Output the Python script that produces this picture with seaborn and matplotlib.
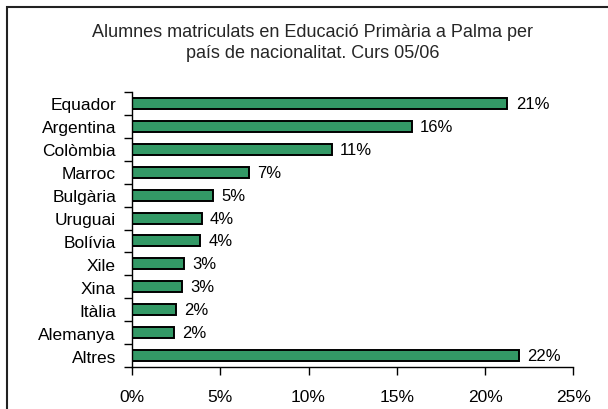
import numpy as np
import pandas as pd
import matplotlib
matplotlib.use("Agg")
import matplotlib.pyplot as plt
import seaborn as sns
from matplotlib.patches import Rectangle

countries = ["Equador", "Argentina", "Colòmbia", "Marroc", "Bulgària", "Uruguai",
             "Bolívia", "Xile", "Xina", "Itàlia", "Alemanya", "Altres"]
shares = [21.27, 15.84, 11.31, 6.64, 4.60, 3.95, 3.85, 2.93, 2.81, 2.49, 2.36, 21.93]
x_ticks = [0, 5, 10, 15, 20, 25]
title_lines = ["Alumnes matriculats en Educació Primària a Palma per",
               "país de nacionalitat. Curs 05/06"]

sns.set_theme(style="white")
plt.rcParams['font.family'] = ['Liberation Sans', 'DejaVu Sans']

df = pd.DataFrame({"country": countries, "share": shares})

fig = plt.figure(figsize=(6.08, 4.10), dpi=100)
ax = fig.add_axes([132/608, 1-368.3/410, (573.3-132)/608, (368.3-92.7)/410])

sns.barplot(data=df, x="share", y="country", orient="h", color="#339966",
            edgecolor="black", linewidth=1.4, width=0.48, saturation=1, ax=ax)
for p in ax.patches:
    p.set_facecolor("#339966")

ax.set_xlim(0, 25)
ax.set_ylim(len(countries)-0.5, -0.5)
ax.set_xticks(x_ticks)
ax.set_xticklabels([f"{t}%" for t in x_ticks])
ax.set_yticks(np.arange(len(countries)))
ax.set_yticklabels(countries)
ax.set_yticks(np.arange(-0.5, len(countries), 1), minor=True)
ax.tick_params(axis="y", which="major", length=0, pad=11.5, labelsize=12.5, colors="black")
ax.tick_params(axis="y", which="minor", length=6, width=1, direction="out", left=True, color="black")
ax.tick_params(axis="x", which="major", length=6, width=1, direction="out", bottom=True,
               pad=9.5, labelsize=12.5, colors="black", color="black")
ax.set_xlabel("")
ax.set_ylabel("")
for s in ["top", "right"]:
    ax.spines[s].set_visible(False)
for s in ["left", "bottom"]:
    ax.spines[s].set_color("black")
    ax.spines[s].set_linewidth(1)
ax.grid(False)

labels = [f"{round(v)}%" for v in shares]
ax.bar_label(ax.containers[0], labels=labels, padding=6, fontsize=12, color="black")

fig.text(312/608, 1-36.7/410, title_lines[0], ha="center", va="baseline", fontsize=13)
fig.text(313/608, 1-58.5/410, title_lines[1], ha="center", va="baseline", fontsize=13)

fig.patches.append(Rectangle((7/608, -0.1), 1.2, 1-8/410+0.1, transform=fig.transFigure,
                             fill=False, edgecolor="#222222", linewidth=1.5))

fig.savefig("out.png", dpi=100)
